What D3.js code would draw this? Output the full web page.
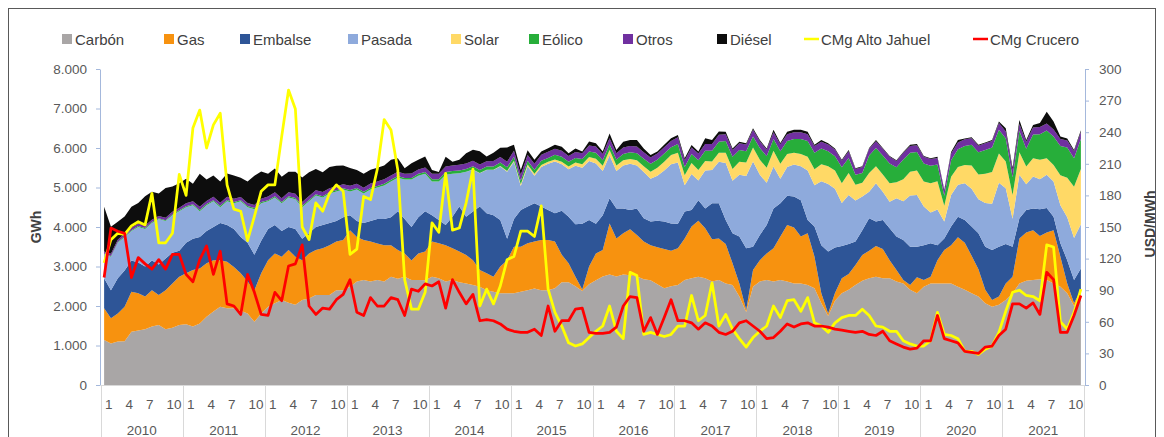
<!DOCTYPE html>
<html>
<head>
<meta charset="utf-8">
<script src="https://cdn.jsdelivr.net/npm/d3@7"></script>
<style>
  body { margin: 0; background: #fff; }
  svg { font-family: "Liberation Sans", Arial, sans-serif; }
</style>
</head>
<body>
<svg id="chart" width="1164" height="437"></svg>
<script>
/* global d3 */

// categories
var years = ["2010","2011","2012","2013","2014","2015","2016","2017","2018","2019","2020","2021"];
var monthTicks = [1, 4, 7, 10];

// generation by source, GWh per month (Jan 2010 - Dec 2021)
var carbon = [
  1140,1050,1100,1110,1350,1380,1410,1480,1520,1410,1450,1520,
  1540,1480,1560,1730,1860,1980,1940,1940,1880,1810,1600,1810,
  1980,2070,2150,2080,2030,2150,2190,2280,2280,2280,2400,2400,
  2490,2620,2660,2620,2660,2620,2740,2690,2740,2660,2660,2650,
  2740,2700,2620,2660,2600,2570,2530,2490,2400,2360,2320,2320,
  2320,2360,2400,2440,2400,2400,2450,2600,2600,2500,2380,2550,
  2650,2750,2800,2750,2800,2780,2750,2680,2650,2550,2450,2500,
  2530,2660,2700,2740,2700,2620,2660,2570,2530,2240,1850,2490,
  2620,2660,2620,2660,2620,2570,2570,2530,2450,2070,1750,2130,
  2320,2410,2530,2640,2700,2740,2700,2700,2620,2570,2410,2320,
  2490,2570,2570,2570,2570,2490,2410,2320,2240,2070,1980,2030,
  2150,2320,2570,2640,2660,2680,2660,2570,2490,2320,2000,2320
];
var gas = [
  800,640,710,870,1010,940,830,920,760,990,1120,1220,
  1290,1430,1390,1350,1300,1180,1180,1050,950,810,800,1020,
  1180,1260,1100,1340,1220,1010,1140,1140,1180,1260,1230,1270,
  1430,1130,1010,1010,920,920,800,730,590,490,670,730,
  890,890,920,800,780,720,630,420,430,380,680,840,
  1180,1140,1190,1190,1270,1270,1180,700,480,240,40,450,
  680,670,1290,960,1040,1160,1050,950,890,940,990,900,
  930,1050,1310,1420,1270,1070,1050,1000,550,330,50,420,
  540,670,840,1100,1430,1420,1190,1310,800,250,60,200,
  380,400,510,650,700,780,740,460,290,90,120,410,
  170,170,590,850,970,1250,1190,950,690,340,170,210,
  420,420,1140,1220,1260,1090,1200,1350,760,250,70,90
];
var embalse = [
  760,710,890,920,790,780,760,750,770,800,780,660,
  770,790,800,820,840,940,930,960,920,980,900,820,
  790,720,650,580,700,540,520,580,590,560,520,580,
  380,400,430,520,620,660,710,980,870,850,920,1020,
  670,590,510,800,1140,970,1230,1610,1520,1560,1180,540,
  700,930,930,970,850,760,720,1110,1180,1330,1660,1180,
  750,880,640,760,630,490,670,590,600,670,700,690,
  620,680,420,520,500,910,890,610,760,1190,1560,590,
  640,720,1010,840,740,780,920,340,760,1220,1570,1150,
  820,760,590,630,820,620,740,810,850,1010,970,770,
  880,850,380,290,470,520,580,740,910,1090,1270,1260,
  1000,760,510,570,550,680,620,340,340,590,590,540
];
var pasada = [
  610,850,900,850,750,900,950,950,1150,950,950,1000,
  900,850,650,650,650,400,600,650,900,900,1150,950,
  700,700,700,750,750,800,800,800,700,750,750,700,
  600,800,750,800,800,850,900,850,1000,1200,1050,950,
  850,970,1270,1090,840,1140,1060,840,1090,1140,1350,1700,
  1450,610,1020,700,1000,1170,1310,1180,1200,1480,1420,1490,
  1530,1120,1080,950,1090,1170,1090,1170,1080,1140,1290,1500,
  1550,670,910,500,960,840,1050,1440,1330,1560,1830,2160,
  1520,1070,1060,620,730,810,860,1250,1050,1620,1710,1490,
  1090,1240,1040,850,670,970,710,670,970,980,1300,1310,
  980,780,900,430,800,810,930,960,860,1110,1170,1620,
  1410,710,1100,650,810,760,840,890,960,1090,1060,1120
];
var solar = [
  0,0,0,0,0,0,0,0,0,0,0,0,
  0,0,0,0,0,0,0,0,0,0,0,0,
  0,0,0,0,0,0,0,0,0,0,0,0,
  0,0,0,0,0,0,0,0,0,0,0,0,
  0,0,0,0,0,0,5,5,10,10,15,20,
  30,40,40,50,50,50,50,60,70,80,90,100,
  120,130,140,140,130,120,130,150,180,200,220,230,
  250,250,280,260,240,220,230,260,300,330,340,350,
  380,380,400,380,330,300,310,350,400,430,450,460,
  500,560,400,350,480,430,440,470,400,560,600,620,
  630,740,720,400,460,450,460,590,630,740,800,740,
  680,600,570,450,460,490,420,420,760,1000,1300,1400
];
var eolico = [
  15,15,20,20,20,25,25,25,20,20,25,25,
  25,25,30,30,30,35,35,30,30,30,30,30,
  30,30,30,30,35,35,35,30,30,30,30,30,
  35,35,40,40,40,45,45,40,40,40,45,45,
  60,60,70,70,70,70,80,80,80,80,90,90,
  100,90,100,100,110,100,120,130,120,120,130,140,
  150,140,140,150,160,170,180,190,200,200,210,200,
  220,210,230,250,260,270,280,300,310,300,290,280,
  300,290,300,320,330,350,380,400,420,400,380,360,
  400,380,250,250,440,460,480,500,380,500,480,470,
  460,440,420,250,420,450,480,520,560,600,620,600,
  580,450,540,450,600,650,700,720,740,760,720,760
];
var otros = [
  55,60,60,65,60,60,65,60,60,65,60,60,
  75,80,80,80,85,80,80,85,80,80,80,85,
  95,100,100,100,105,100,100,100,105,100,100,100,
  110,110,105,110,110,115,110,110,110,115,110,110,
  140,135,140,140,145,140,140,140,135,140,140,145,
  150,150,145,150,150,155,150,150,150,150,150,155,
  160,160,155,160,160,160,165,160,160,160,160,160,
  170,170,165,170,170,170,175,170,170,170,170,170,
  170,170,170,175,170,170,170,170,170,170,170,170,
  170,170,150,150,170,170,170,170,160,170,170,170,
  170,170,170,140,170,170,170,170,170,170,170,170,
  180,180,180,180,180,180,180,180,180,180,180,180
];
var diesel = [
  1130,680,450,430,530,520,740,710,570,750,640,620,
  620,440,840,540,540,540,590,590,490,540,740,690,
  570,600,540,520,560,620,600,540,500,540,520,480,
  450,350,350,350,350,350,400,340,140,260,250,280,
  90,50,250,90,130,260,280,330,120,210,230,360,
  150,120,120,100,80,90,100,100,70,90,40,100,
  80,60,120,80,150,150,170,100,60,50,60,70,
  60,50,60,50,150,100,80,60,40,40,30,40,
  30,30,60,30,60,60,60,60,30,40,30,30,
  20,30,20,20,20,30,20,20,20,20,30,30,
  20,20,30,20,40,60,20,20,20,20,20,40,
  80,60,100,40,60,100,300,200,60,50,30,40
];

// marginal costs, USD/MWh
var cmgAltoJahuel = [
  116,138,144,143,151,155,152,182,135,135,144,200,
  180,244,261,225,247,258,190,167,165,137,160,184,
  190,190,236,280,262,150,138,173,165,182,190,184,
  124,129,179,176,205,252,242,204,100,72,72,88,
  154,145,201,147,149,173,205,75,91,77,94,119,
  122,146,146,141,170,91,69,56,40,37,39,45,
  51,56,75,51,44,107,104,48,50,48,46,48,
  56,56,85,61,66,97,56,67,53,44,36,45,
  51,56,75,64,80,81,70,83,59,56,50,59,
  64,66,66,72,66,56,55,51,51,42,39,37,
  37,42,69,48,47,44,32,32,29,34,37,50,
  70,88,90,85,84,80,133,131,60,53,69,91
];
var cmgCrucero = [
  102,149,146,144,102,121,115,110,119,110,124,124,
  105,98,119,132,105,127,77,75,67,105,88,67,
  66,88,80,113,115,133,75,67,73,72,81,86,
  100,69,66,83,75,75,83,81,66,91,89,96,
  94,98,73,100,88,77,86,61,62,61,58,53,
  51,50,50,53,47,75,51,61,61,72,73,50,
  49,49,50,55,75,84,83,51,64,48,64,81,
  61,61,59,53,59,56,50,48,51,59,61,56,
  51,44,45,51,58,55,58,59,56,56,55,53,
  52,51,50,51,48,47,51,42,39,36,34,35,
  42,42,66,44,42,40,32,31,30,36,37,47,
  53,77,77,73,78,67,107,100,50,50,66,85
];

var keys = ["Carbón", "Gas", "Embalse", "Pasada", "Solar", "Eólico", "Otros", "Diésel"];
var sources = [carbon, gas, embalse, pasada, solar, eolico, otros, diesel];
var colors = ["#a9a6a6", "#f7920f", "#2e5597", "#8eaadc", "#ffd966", "#27ae3a", "#7030a0", "#0d0d0d"];

var plotLeft = 100.7, plotRight = 1084.3, plotTop = 69, plotBottom = 385;
var n = carbon.length;

var svg = d3.select("#chart");

// chart frame
svg.append("rect")
  .attr("x", 8.5).attr("y", 8.5)
  .attr("width", 1147).attr("height", 445)
  .attr("fill", "none")
  .attr("stroke", "#595959");

var x = d3.scalePoint().domain(d3.range(n)).range([plotLeft, plotRight]).padding(0.5);
var y = d3.scaleLinear().domain([0, 8000]).range([plotBottom, plotTop]);
var y2 = d3.scaleLinear().domain([0, 300]).range([plotBottom, plotTop]);

// stacked areas
var table = d3.range(n).map(function(i) {
  var row = {};
  keys.forEach(function(k, j) { row[k] = sources[j][i]; });
  return row;
});
var stacked = d3.stack().keys(keys)(table);

var area = d3.area()
  .x(function(d, i) { return x(i); })
  .y0(function(d) { return y(d[0]); })
  .y1(function(d) { return y(d[1]); });

svg.append("g").selectAll("path")
  .data(stacked)
  .enter()
  .append("path")
  .attr("d", area)
  .attr("fill", function(d, i) { return colors[i]; });

// price lines
var line = d3.line()
  .x(function(d, i) { return x(i); })
  .y(function(d) { return y2(d); });

svg.append("path")
  .datum(cmgAltoJahuel)
  .attr("d", line)
  .attr("fill", "none")
  .attr("stroke", "#ffff00")
  .attr("stroke-width", 2.75)
  .attr("stroke-linejoin", "round");

svg.append("path")
  .datum(cmgCrucero)
  .attr("d", line)
  .attr("fill", "none")
  .attr("stroke", "#ff0000")
  .attr("stroke-width", 2.75)
  .attr("stroke-linejoin", "round");

// axes
var locale = d3.formatLocale({ decimal: ",", thousands: ".", grouping: [3], currency: ["", ""] });
var fmt = locale.format(",");
var axisColor = "#a4b8dc";

var yAxis = svg.append("g")
  .attr("transform", "translate(100,0)")
  .call(d3.axisLeft(y).tickValues(d3.range(0, 8001, 1000)).tickFormat(fmt).tickSize(4).tickSizeOuter(0).tickPadding(9));

var y2Axis = svg.append("g")
  .attr("transform", "translate(1085,0)")
  .call(d3.axisRight(y2).tickValues(d3.range(0, 301, 30)).tickSize(4).tickSizeOuter(0).tickPadding(10));

[yAxis, y2Axis].forEach(function(g) {
  g.select(".domain").attr("stroke", axisColor);
  g.selectAll(".tick line").attr("stroke", axisColor);
  g.selectAll(".tick text").attr("fill", "#595959").style("font-size", "13.5px");
});

svg.append("text")
  .attr("transform", "translate(41,227) rotate(-90)")
  .attr("text-anchor", "middle")
  .attr("fill", "#404040")
  .style("font-size", "14px")
  .style("font-weight", "bold")
  .text("GWh");

svg.append("text")
  .attr("transform", "translate(1155,224) rotate(-90)")
  .attr("text-anchor", "middle")
  .attr("fill", "#404040")
  .style("font-size", "14px")
  .style("font-weight", "bold")
  .text("USD/MWh");

// category axis: month ticks and year groups
var step = x.step();
var xg = svg.append("g");
xg.append("line")
  .attr("x1", plotLeft).attr("x2", plotRight)
  .attr("y1", plotBottom + 0.5).attr("y2", plotBottom + 0.5)
  .attr("stroke", "#d9d9d9");

years.forEach(function(yr, j) {
  var x0 = x(j * 12) - step / 2;
  xg.append("line")
    .attr("x1", Math.round(x0) + 0.5).attr("x2", Math.round(x0) + 0.5)
    .attr("y1", plotBottom).attr("y2", 437)
    .attr("stroke", "#d9d9d9");
  monthTicks.forEach(function(m) {
    xg.append("text")
      .attr("x", x(j * 12 + m - 1) + 1)
      .attr("y", 409)
      .attr("fill", "#595959")
      .style("font-size", "13.5px")
      .text(m);
  });
  xg.append("text")
    .attr("x", x0 + step * 6)
    .attr("y", 435)
    .attr("text-anchor", "middle")
    .attr("fill", "#595959")
    .style("font-size", "13.5px")
    .text(yr);
});
xg.append("line")
  .attr("x1", Math.round(plotRight) + 0.5).attr("x2", Math.round(plotRight) + 0.5)
  .attr("y1", plotBottom).attr("y2", 437)
  .attr("stroke", "#d9d9d9");

// legend
var legendNames = keys.concat(["CMg Alto Jahuel", "CMg Crucero"]);
var legendColors = colors.concat(["#ffff00", "#ff0000"]);
var legendX = [62, 164, 240, 348, 451, 529, 623, 717, 804, 973];

var legend = svg.append("g");
legendNames.forEach(function(name, i) {
  var lx = legendX[i];
  if (i < keys.length) {
    legend.append("rect")
      .attr("x", lx).attr("y", 34)
      .attr("width", 10).attr("height", 10)
      .attr("fill", legendColors[i]);
    legend.append("text")
      .attr("x", lx + 13).attr("y", 44.5)
      .attr("fill", "#404040")
      .style("font-size", "15px")
      .text(name);
  } else {
    legend.append("line")
      .attr("x1", lx).attr("x2", lx + 15)
      .attr("y1", 39).attr("y2", 39)
      .attr("stroke", legendColors[i])
      .attr("stroke-width", 2.5);
    legend.append("text")
      .attr("x", lx + 17).attr("y", 44.5)
      .attr("fill", "#404040")
      .style("font-size", "15px")
      .text(name);
  }
});
</script>
</body>
</html>
